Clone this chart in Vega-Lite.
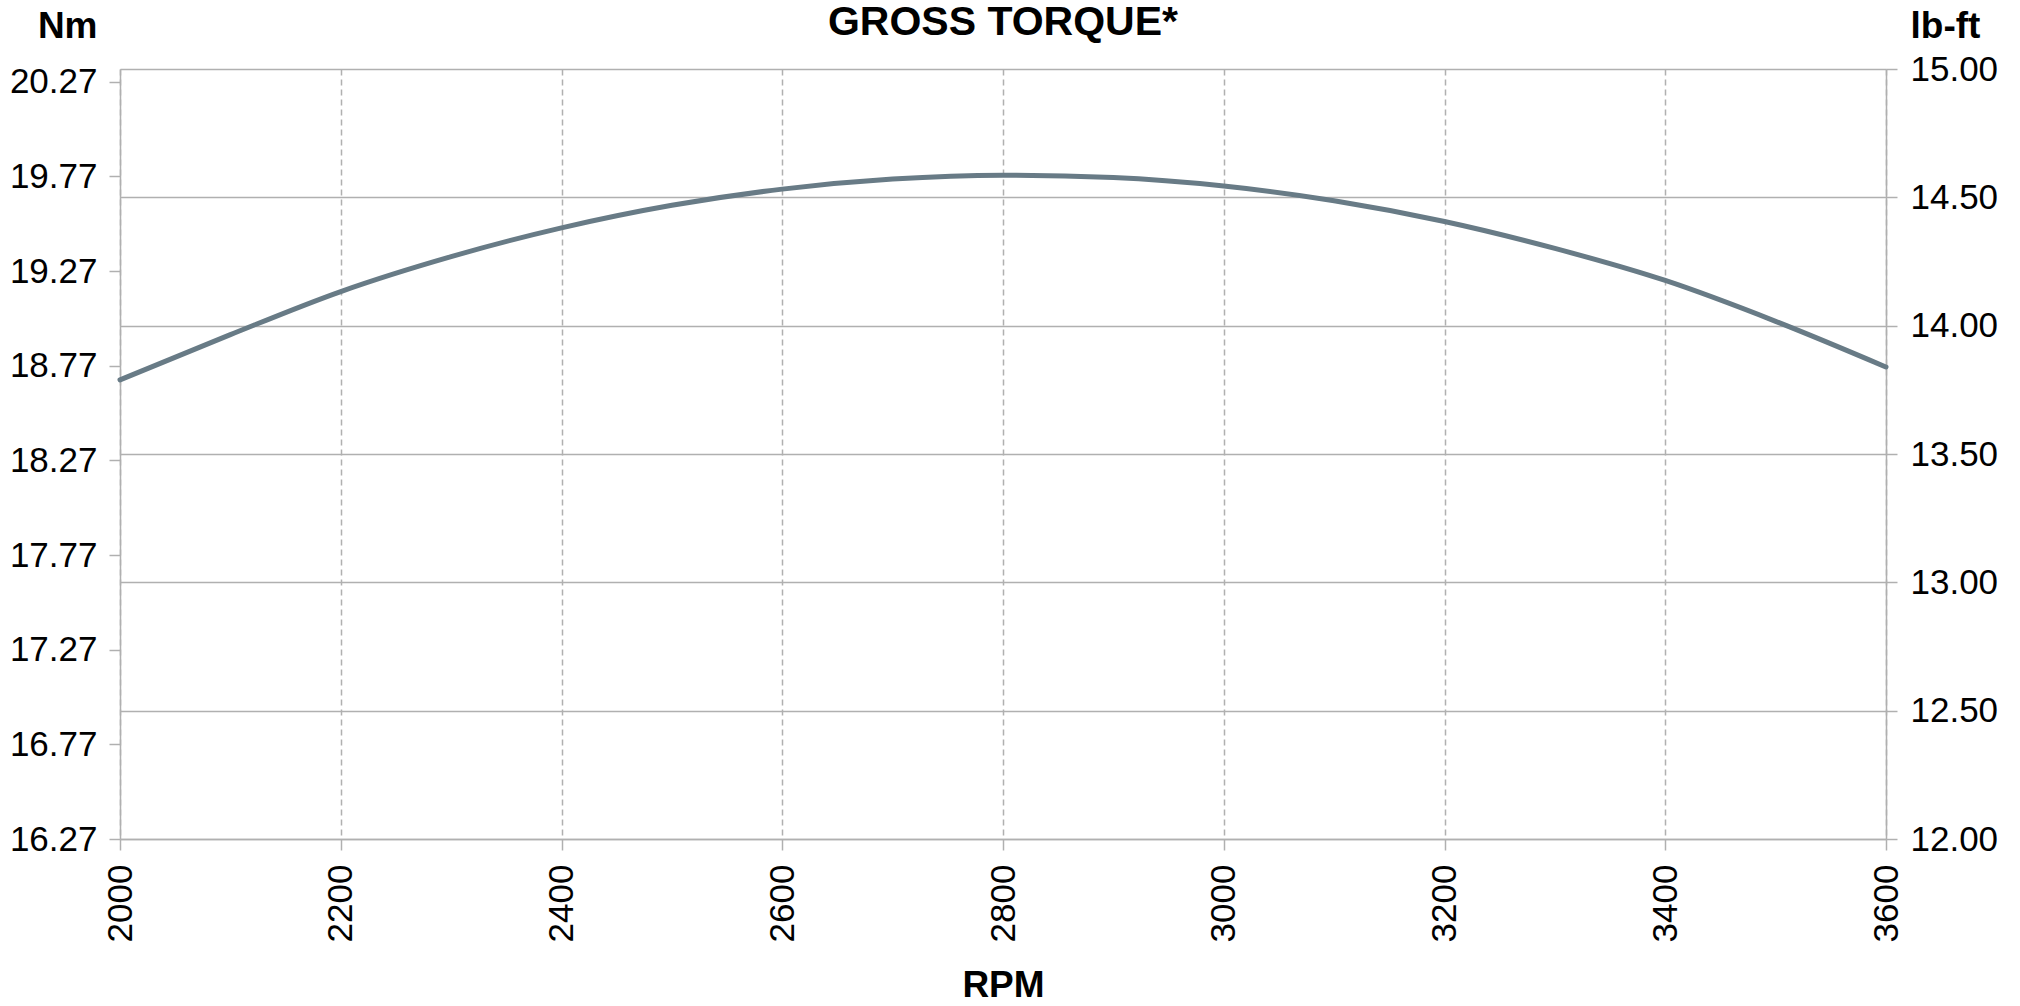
{
  "$schema": "https://vega.github.io/schema/vega-lite/v6.json",
  "width": 1766,
  "height": 770,
  "autosize": {"type": "none"},
  "padding": {"left": 120, "top": 69, "right": 134, "bottom": 167},
  "background": "white",
  "config": {
    "view": {"stroke": null},
    "font": "Liberation Sans",
    "axis": {
      "labelFont": "Liberation Sans",
      "titleFont": "Liberation Sans",
      "labelColor": "#000000",
      "titleColor": "#000000",
      "domainColor": "#b0b0b0",
      "tickColor": "#b0b0b0",
      "gridColor": "#b0b0b0",
      "domainWidth": 1.5,
      "tickWidth": 1.5,
      "gridWidth": 1.5,
      "gridOpacity": 1,
      "tickSize": 11,
      "labelFontSize": 35,
      "titleFontSize": 37,
      "titleFontWeight": "bold"
    }
  },
  "title": {
    "text": "GROSS TORQUE*",
    "font": "Liberation Sans",
    "fontSize": 41,
    "fontWeight": "bold",
    "color": "#000000",
    "anchor": "middle",
    "baseline": "alphabetic",
    "offset": 0,
    "dy": 69
  },
  "data": {
    "values": [
      {"rpm": 2000, "lbft": 13.789, "nm": 18.695},
      {"rpm": 2100, "lbft": 13.965, "nm": 18.934},
      {"rpm": 2200, "lbft": 14.133, "nm": 19.162},
      {"rpm": 2300, "lbft": 14.269, "nm": 19.346},
      {"rpm": 2400, "lbft": 14.381, "nm": 19.498},
      {"rpm": 2500, "lbft": 14.469, "nm": 19.617},
      {"rpm": 2600, "lbft": 14.532, "nm": 19.703},
      {"rpm": 2700, "lbft": 14.571, "nm": 19.756},
      {"rpm": 2800, "lbft": 14.586, "nm": 19.776},
      {"rpm": 2900, "lbft": 14.577, "nm": 19.764},
      {"rpm": 3000, "lbft": 14.544, "nm": 19.719},
      {"rpm": 3100, "lbft": 14.487, "nm": 19.642},
      {"rpm": 3200, "lbft": 14.406, "nm": 19.532},
      {"rpm": 3300, "lbft": 14.301, "nm": 19.389},
      {"rpm": 3400, "lbft": 14.176, "nm": 19.220},
      {"rpm": 3500, "lbft": 14.017, "nm": 19.005},
      {"rpm": 3600, "lbft": 13.839, "nm": 18.763}
    ]
  },
  "encoding": {
    "x": {
      "field": "rpm",
      "type": "quantitative",
      "scale": {"domain": [2000, 3600], "nice": false, "zero": false},
      "axis": {
        "title": "RPM",
        "values": [2000, 2200, 2400, 2600, 2800, 3000, 3200, 3400, 3600],
        "format": "d",
        "labelAngle": -90,
        "labelPadding": 14,
        "titlePadding": 26,
        "grid": true,
        "gridDash": [6, 4],
        "labelFlush": false,
        "labelOverlap": false
      }
    }
  },
  "layer": [
    {
      "mark": {"type": "line", "strokeOpacity": 0},
      "encoding": {
        "y": {
          "field": "nm",
          "type": "quantitative",
          "scale": {"domain": [16.27, 20.337], "nice": false, "zero": false},
          "axis": {
            "orient": "left",
            "title": "Nm",
            "titleAngle": 0,
            "titleAlign": "right",
            "titleBaseline": "alphabetic",
            "titleX": -23,
            "titleY": -32,
            "values": [16.27, 16.77, 17.27, 17.77, 18.27, 18.77, 19.27, 19.77, 20.27],
            "format": ".2f",
            "grid": false,
            "labelPadding": 12,
            "labelFlush": false,
            "labelOverlap": false
          }
        }
      }
    },
    {
      "mark": {"type": "line", "color": "#687b86", "strokeWidth": 5, "interpolate": "monotone", "strokeCap": "round"},
      "encoding": {
        "y": {
          "field": "lbft",
          "type": "quantitative",
          "scale": {"domain": [12, 15], "nice": false, "zero": false},
          "axis": {
            "orient": "right",
            "title": "lb-ft",
            "titleAngle": 0,
            "titleAlign": "left",
            "titleBaseline": "alphabetic",
            "titleX": 24,
            "titleY": -32,
            "values": [12, 12.5, 13, 13.5, 14, 14.5, 15],
            "format": ".2f",
            "grid": true,
            "labelPadding": 13,
            "labelFlush": false,
            "labelOverlap": false
          }
        }
      }
    }
  ],
  "resolve": {"scale": {"y": "independent"}}
}
